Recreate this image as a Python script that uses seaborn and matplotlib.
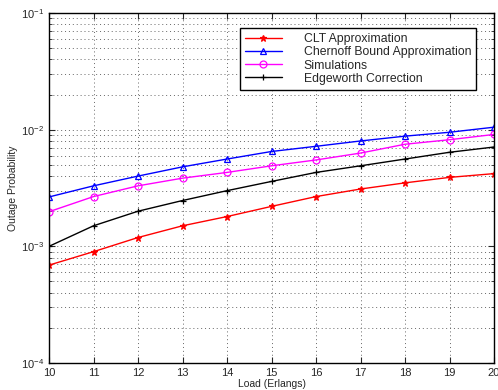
import numpy as np
import pandas as pd
import matplotlib
matplotlib.use("Agg")
import matplotlib.pyplot as plt
import seaborn as sns

# data
load = [10, 11, 12, 13, 14, 15, 16, 17, 18, 19, 20]
clt = [0.00069, 0.0009, 0.00119, 0.0015, 0.0018, 0.0022, 0.00267, 0.0031, 0.0035, 0.0039, 0.0042]
chernoff = [0.00265, 0.0033, 0.0040, 0.0048, 0.0056, 0.0065, 0.0072, 0.0080, 0.0088, 0.0095, 0.0105]
simulations = [0.00198, 0.00267, 0.0033, 0.00384, 0.0043, 0.0049, 0.0055, 0.0063, 0.0075, 0.0082, 0.0091]
edgeworth = [0.0010, 0.0015, 0.0020, 0.00247, 0.0030, 0.0036, 0.0043, 0.0049, 0.0056, 0.0064, 0.0071]

series_names = ["CLT Approximation", "Chernoff Bound Approximation", "Simulations", "Edgeworth Correction"]
series_vals = [clt, chernoff, simulations, edgeworth]
colors = ["red", "blue", "magenta", "black"]
markers = ["*", "^", "o", "+"]

sns.set_style("ticks")
plt.rcParams["font.family"] = ["Liberation Sans", "DejaVu Sans"]
plt.rcParams["mathtext.fontset"] = "custom"
plt.rcParams["mathtext.rm"] = "Liberation Sans"
plt.rcParams["mathtext.it"] = "Liberation Sans:italic"

fig = plt.figure(figsize=(4.98, 3.9), dpi=100)
ax = fig.add_axes([0.0984, 0.0692, 0.8936, 0.8975])

for name, vals, c, m in zip(series_names, series_vals, colors, markers):
    df = pd.DataFrame({"load": load, "p": vals})
    filled = m in ("*", "+")
    sns.lineplot(data=df, x="load", y="p", ax=ax, color=c, marker=m,
                 markersize=5,
                 markerfacecolor=c if filled else "none",
                 markeredgecolor=c, markeredgewidth=0.9,
                 linewidth=1.0, label=name)

ax.set_yscale("log")
ax.set_ylim(1e-4, 1e-1)
ax.set_xlim(10, 20)
ax.set_xticks(load)
ax.grid(True, which="major", linestyle=(0, (1, 3)), color="#666666", linewidth=0.7)
ax.grid(True, which="minor", axis="y", linestyle=(0, (1, 3)), color="#666666", linewidth=0.7)
ax.tick_params(which="both", direction="in", top=True, right=True, labelsize=8)
ax.tick_params(which="major", length=4)
ax.tick_params(which="minor", length=2)
for s in ax.spines.values():
    s.set_linewidth(1.0)
    s.set_color("black")

ax.set_xlabel("Load (Erlangs)", fontsize=7.5, labelpad=1)
ax.set_ylabel("Outage Probability", fontsize=7.5, labelpad=2)

leg = ax.legend(loc="upper right", bbox_to_anchor=(0.973, 0.974), fontsize=8.8,
                frameon=True, fancybox=False, framealpha=1, edgecolor="black",
                handlelength=3.0, handletextpad=1.8, borderpad=0.4, labelspacing=0.1)
leg.get_frame().set_linewidth(1.0)

fig.savefig("out.png", dpi=100)
